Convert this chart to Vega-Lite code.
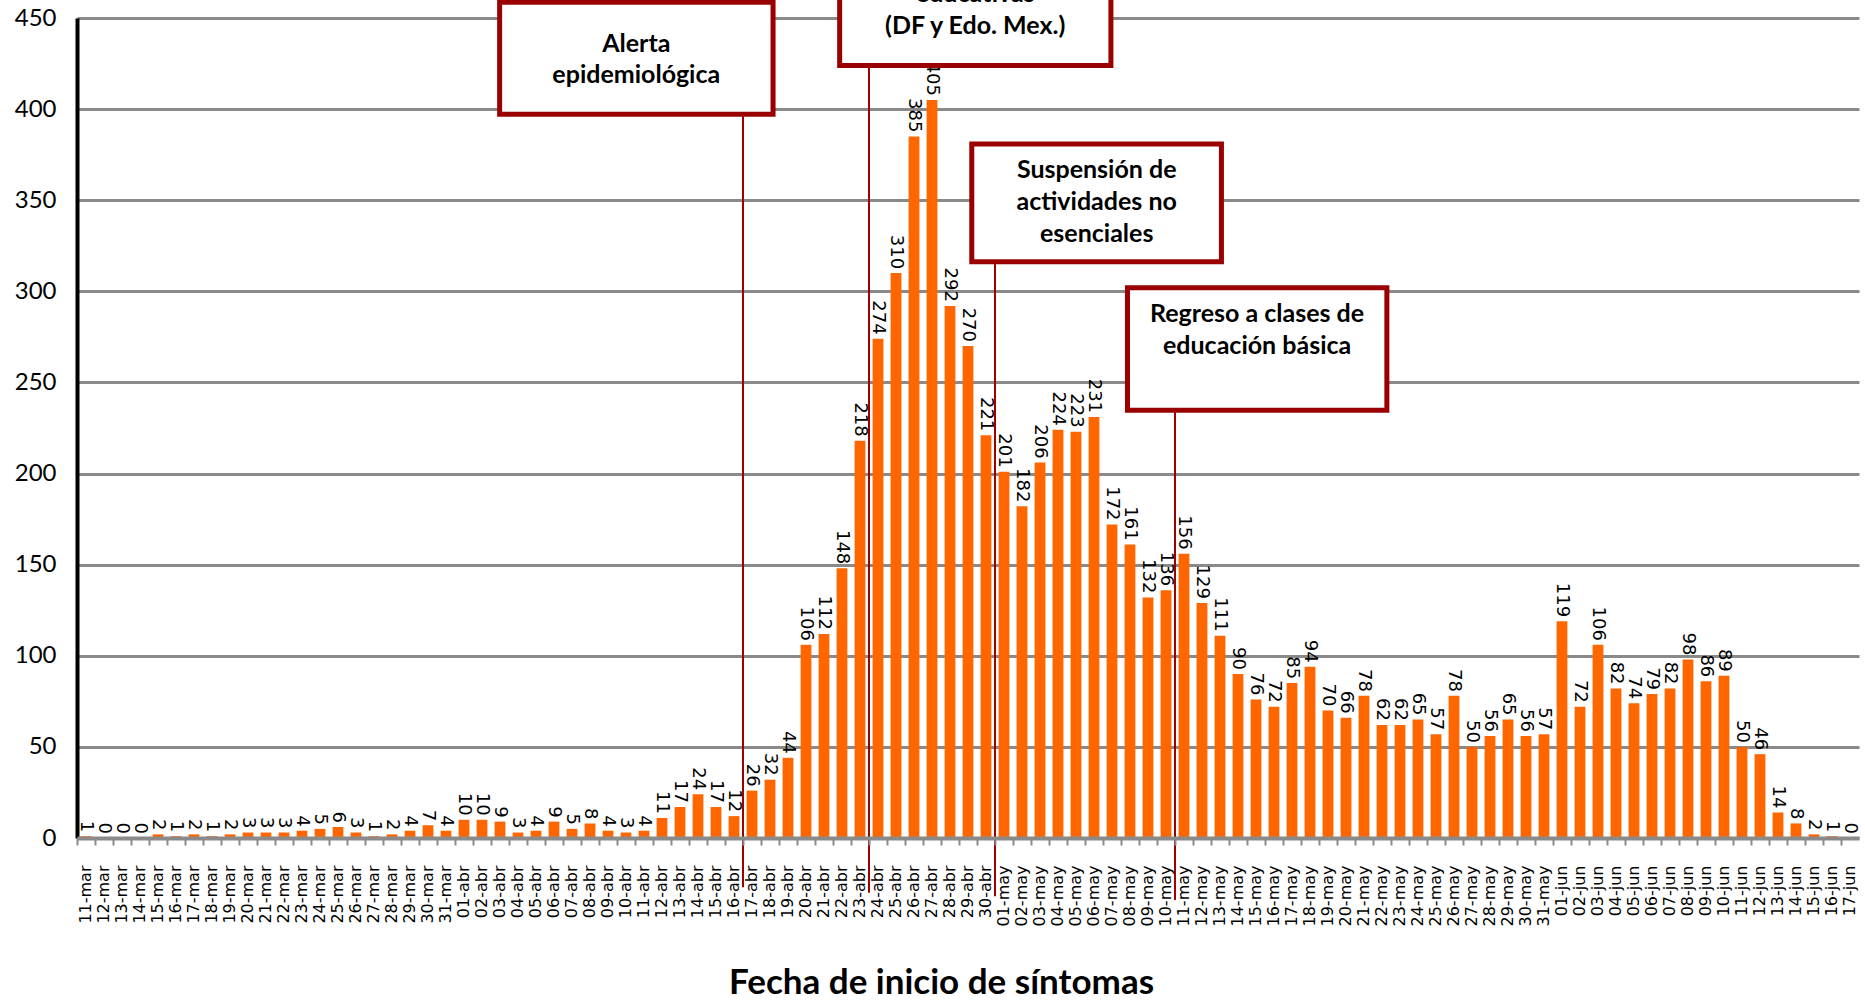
{
  "$schema": "https://vega.github.io/schema/vega-lite/v6.json",
  "width": 1782,
  "height": 820,
  "autosize": {"type": "none"},
  "padding": {"left": 77, "top": 18, "right": 6, "bottom": 163},
  "background": "white",
  "config": {"view": {"stroke": null}},
  "layer": [
    {
      "data": {"values": [
        {"fecha": "11-mar", "casos": 1}, {"fecha": "12-mar", "casos": 0}, {"fecha": "13-mar", "casos": 0}, {"fecha": "14-mar", "casos": 0},
        {"fecha": "15-mar", "casos": 2}, {"fecha": "16-mar", "casos": 1}, {"fecha": "17-mar", "casos": 2}, {"fecha": "18-mar", "casos": 1},
        {"fecha": "19-mar", "casos": 2}, {"fecha": "20-mar", "casos": 3}, {"fecha": "21-mar", "casos": 3}, {"fecha": "22-mar", "casos": 3},
        {"fecha": "23-mar", "casos": 4}, {"fecha": "24-mar", "casos": 5}, {"fecha": "25-mar", "casos": 6}, {"fecha": "26-mar", "casos": 3},
        {"fecha": "27-mar", "casos": 1}, {"fecha": "28-mar", "casos": 2}, {"fecha": "29-mar", "casos": 4}, {"fecha": "30-mar", "casos": 7},
        {"fecha": "31-mar", "casos": 4},
        {"fecha": "01-abr", "casos": 10}, {"fecha": "02-abr", "casos": 10}, {"fecha": "03-abr", "casos": 9}, {"fecha": "04-abr", "casos": 3},
        {"fecha": "05-abr", "casos": 4}, {"fecha": "06-abr", "casos": 9}, {"fecha": "07-abr", "casos": 5}, {"fecha": "08-abr", "casos": 8},
        {"fecha": "09-abr", "casos": 4}, {"fecha": "10-abr", "casos": 3}, {"fecha": "11-abr", "casos": 4}, {"fecha": "12-abr", "casos": 11},
        {"fecha": "13-abr", "casos": 17}, {"fecha": "14-abr", "casos": 24}, {"fecha": "15-abr", "casos": 17}, {"fecha": "16-abr", "casos": 12},
        {"fecha": "17-abr", "casos": 26}, {"fecha": "18-abr", "casos": 32}, {"fecha": "19-abr", "casos": 44}, {"fecha": "20-abr", "casos": 106},
        {"fecha": "21-abr", "casos": 112}, {"fecha": "22-abr", "casos": 148}, {"fecha": "23-abr", "casos": 218}, {"fecha": "24-abr", "casos": 274},
        {"fecha": "25-abr", "casos": 310}, {"fecha": "26-abr", "casos": 385}, {"fecha": "27-abr", "casos": 405}, {"fecha": "28-abr", "casos": 292},
        {"fecha": "29-abr", "casos": 270}, {"fecha": "30-abr", "casos": 221},
        {"fecha": "01-may", "casos": 201}, {"fecha": "02-may", "casos": 182}, {"fecha": "03-may", "casos": 206}, {"fecha": "04-may", "casos": 224},
        {"fecha": "05-may", "casos": 223}, {"fecha": "06-may", "casos": 231}, {"fecha": "07-may", "casos": 172}, {"fecha": "08-may", "casos": 161},
        {"fecha": "09-may", "casos": 132}, {"fecha": "10-may", "casos": 136}, {"fecha": "11-may", "casos": 156}, {"fecha": "12-may", "casos": 129},
        {"fecha": "13-may", "casos": 111}, {"fecha": "14-may", "casos": 90}, {"fecha": "15-may", "casos": 76}, {"fecha": "16-may", "casos": 72},
        {"fecha": "17-may", "casos": 85}, {"fecha": "18-may", "casos": 94}, {"fecha": "19-may", "casos": 70}, {"fecha": "20-may", "casos": 66},
        {"fecha": "21-may", "casos": 78}, {"fecha": "22-may", "casos": 62}, {"fecha": "23-may", "casos": 62}, {"fecha": "24-may", "casos": 65},
        {"fecha": "25-may", "casos": 57}, {"fecha": "26-may", "casos": 78}, {"fecha": "27-may", "casos": 50}, {"fecha": "28-may", "casos": 56},
        {"fecha": "29-may", "casos": 65}, {"fecha": "30-may", "casos": 56}, {"fecha": "31-may", "casos": 57},
        {"fecha": "01-jun", "casos": 119}, {"fecha": "02-jun", "casos": 72}, {"fecha": "03-jun", "casos": 106}, {"fecha": "04-jun", "casos": 82},
        {"fecha": "05-jun", "casos": 74}, {"fecha": "06-jun", "casos": 79}, {"fecha": "07-jun", "casos": 82}, {"fecha": "08-jun", "casos": 98},
        {"fecha": "09-jun", "casos": 86}, {"fecha": "10-jun", "casos": 89}, {"fecha": "11-jun", "casos": 50}, {"fecha": "12-jun", "casos": 46},
        {"fecha": "13-jun", "casos": 14}, {"fecha": "14-jun", "casos": 8}, {"fecha": "15-jun", "casos": 2}, {"fecha": "16-jun", "casos": 1},
        {"fecha": "17-jun", "casos": 0}
      ]},
      "layer": [
        {
          "mark": {"type": "bar", "color": "#FF6600"},
          "encoding": {
            "x": {
              "field": "fecha", "type": "nominal", "sort": null,
              "scale": {"paddingInner": 0.4, "paddingOuter": 0.2},
              "axis": {
                "title": "Fecha de inicio de síntomas",
                "titleFont": "Lato", "titleFontWeight": "bold", "titleFontSize": 35, "titleColor": "black",
                "titleX": 864, "titleY": 155, "titleAlign": "center", "titleBaseline": "alphabetic",
                "labelAngle": 270, "labelAlign": "right", "labelBaseline": "middle",
                "labelFont": "DejaVu Sans", "labelFontSize": 16, "labelColor": "black",
                "labelPadding": 20, "labelOverlap": false,
                "tickSize": 7, "tickColor": "#8a8a8a", "tickWidth": 2, "bandPosition": -0.3333,
                "domainColor": "#8a8a8a", "domainWidth": 4, "zindex": 1
              }
            },
            "y": {
              "field": "casos", "type": "quantitative",
              "scale": {"domain": [0, 450], "nice": false, "zero": true},
              "axis": {
                "title": null,
                "values": [0, 50, 100, 150, 200, 250, 300, 350, 400, 450],
                "grid": true, "gridColor": "#8a8a8a", "gridWidth": 3,
                "domainColor": "black", "domainWidth": 4,
                "ticks": false, "tickSize": 0,
                "labelFont": "Lato", "labelFontSize": 24, "labelColor": "black", "labelPadding": 21
              }
            }
          }
        },
        {
          "mark": {"type": "text", "angle": 90, "align": "right", "baseline": "middle", "dx": -4, "font": "DejaVu Sans", "fontSize": 18, "color": "black"},
          "encoding": {
            "x": {"field": "fecha", "type": "nominal", "sort": null},
            "y": {"field": "casos", "type": "quantitative", "scale": {"domain": [0, 450], "nice": false}},
            "text": {"field": "casos", "type": "quantitative"}
          }
        }
      ]
    },
    {
      "layer": [
        {
          "data": {"values": [
            {"pos": 37, "y": 397, "y2": -27},
            {"pos": 44, "y": 424, "y2": -30},
            {"pos": 51, "y": 316, "y2": -32},
            {"pos": 61, "y": 235, "y2": -34}
          ]},
          "mark": {"type": "rule", "color": "#A00000", "strokeWidth": 2},
          "encoding": {
            "x": {"field": "pos", "type": "quantitative", "scale": {"domain": [0, 99], "nice": false, "zero": false}, "axis": null},
            "y": {"field": "y", "type": "quantitative", "scale": {"domain": [0, 450], "nice": false}, "axis": null},
            "y2": {"field": "y2"}
          }
        },
        {
          "data": {"values": [
            {"x1": 23.48, "x2": 38.67, "y1": 458.6, "y2": 397.2},
            {"x1": 42.37, "x2": 57.44, "y1": 540, "y2": 424.0},
            {"x1": 49.71, "x2": 63.58, "y1": 380.9, "y2": 316.3},
            {"x1": 58.36, "x2": 72.77, "y1": 301.9, "y2": 234.7}
          ]},
          "mark": {"type": "rect", "fill": "white", "stroke": "#9A0000", "strokeWidth": 5},
          "encoding": {
            "x": {"field": "x1", "type": "quantitative", "scale": {"domain": [0, 99], "nice": false, "zero": false}, "axis": null},
            "x2": {"field": "x2"},
            "y": {"field": "y1", "type": "quantitative", "scale": {"domain": [0, 450], "nice": false}, "axis": null},
            "y2": {"field": "y2"}
          }
        },
        {
          "data": {"values": [
            {"pos": 31.07, "y": 435.7, "t": "Alerta"},
            {"pos": 31.07, "y": 418.7, "t": "epidemiológica"},
            {"pos": 49.9, "y": 498.3, "t": "Suspensión de"},
            {"pos": 49.9, "y": 480.7, "t": "actividades"},
            {"pos": 49.9, "y": 463.2, "t": "educativas"},
            {"pos": 49.9, "y": 445.6, "t": "(DF y Edo. Mex.)"},
            {"pos": 56.65, "y": 366.6, "t": "Suspensión de"},
            {"pos": 56.65, "y": 349.0, "t": "actividades no"},
            {"pos": 56.65, "y": 331.5, "t": "esenciales"},
            {"pos": 65.56, "y": 287.6, "t": "Regreso a clases de"},
            {"pos": 65.56, "y": 270.0, "t": "educación básica"}
          ]},
          "mark": {"type": "text", "font": "Lato", "fontWeight": "bold", "fontSize": 25, "align": "center", "baseline": "middle", "color": "black"},
          "encoding": {
            "x": {"field": "pos", "type": "quantitative", "scale": {"domain": [0, 99], "nice": false, "zero": false}, "axis": null},
            "y": {"field": "y", "type": "quantitative", "scale": {"domain": [0, 450], "nice": false}, "axis": null},
            "text": {"field": "t", "type": "nominal"}
          }
        }
      ]
    }
  ],
  "resolve": {"scale": {"x": "independent"}, "axis": {"y": "independent"}}
}
